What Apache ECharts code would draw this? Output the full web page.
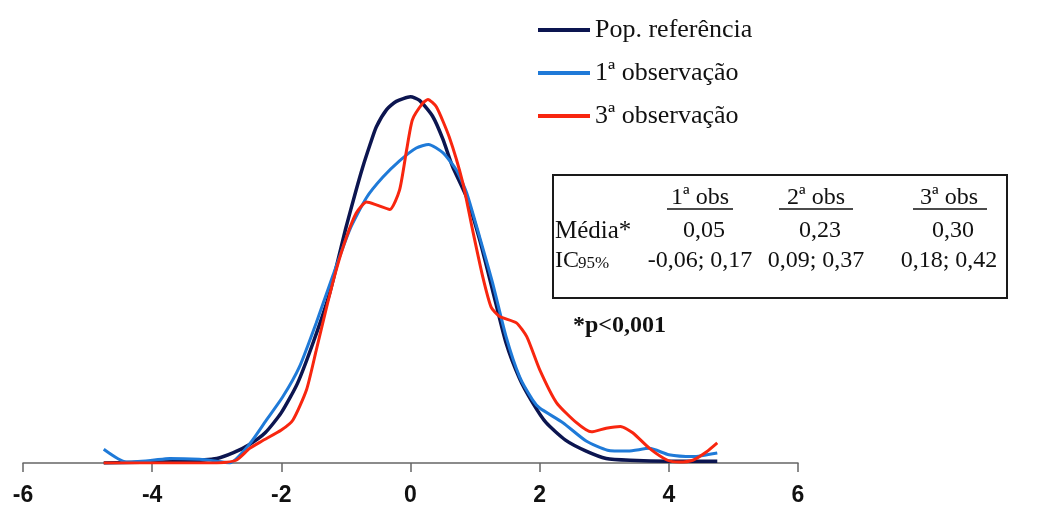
<!DOCTYPE html>
<html>
<head>
<meta charset="utf-8">
<script src="https://cdn.jsdelivr.net/npm/echarts@6/dist/echarts.min.js"></script>
<style>
  html, body { margin: 0; padding: 0; background: #fff; }
  #chart { width: 1054px; height: 515px; }
</style>
</head>
<body>
<div id="chart"></div>
<script>
// curvas de densidade (x = escore z, y = densidade)
const popRef = [
  [-4.75, 0], [-4.0, 0.001], [-3.5, 0.002], [-3.0, 0.005], [-2.75, 0.011], [-2.5, 0.020],
  [-2.25, 0.033], [-2.0, 0.055], [-1.75, 0.087], [-1.5, 0.133], [-1.25, 0.186], [-1.0, 0.257],
  [-0.85, 0.296], [-0.74, 0.323], [-0.63, 0.347], [-0.53, 0.367], [-0.37, 0.386], [-0.22, 0.395],
  [0, 0.400], [0.14, 0.396], [0.34, 0.379], [0.5, 0.354], [0.65, 0.324], [0.87, 0.290],
  [1.07, 0.244], [1.27, 0.189], [1.48, 0.131], [1.69, 0.092], [1.89, 0.066],
  [2.1, 0.044], [2.4, 0.025], [2.72, 0.013], [3.03, 0.005], [3.4, 0.003], [4.0, 0.002], [4.75, 0.002]
];
const obs1 = [
  [-4.75, 0.015], [-4.4, 0.001], [-4.0, 0.003], [-3.73, 0.005], [-3.27, 0.004], [-3.0, 0.002],
  [-2.8, 0], [-2.5, 0.020], [-2.23, 0.047], [-1.98, 0.072], [-1.72, 0.105], [-1.46, 0.153],
  [-1.2, 0.205], [-0.94, 0.255], [-0.68, 0.290], [-0.43, 0.312], [-0.17, 0.330], [0.09, 0.344],
  [0.28, 0.348], [0.5, 0.339], [0.71, 0.320], [0.87, 0.295], [1.07, 0.247], [1.27, 0.197],
  [1.48, 0.138], [1.69, 0.094], [1.89, 0.069], [2.0, 0.060], [2.36, 0.044], [2.72, 0.024],
  [3.05, 0.014], [3.37, 0.013], [3.7, 0.016], [4.0, 0.009], [4.37, 0.007], [4.75, 0.011]
];
const obs3 = [
  [-4.75, 0], [-3.0, 0], [-2.7, 0.003], [-2.49, 0.016], [-2.3, 0.024], [-2.0, 0.036],
  [-1.82, 0.047], [-1.61, 0.080], [-1.46, 0.123], [-1.3, 0.170], [-1.15, 0.211], [-0.99, 0.247],
  [-0.84, 0.273], [-0.68, 0.285], [-0.53, 0.282], [-0.32, 0.277], [-0.17, 0.298], [-0.06, 0.342],
  [0.03, 0.375], [0.19, 0.393], [0.27, 0.397], [0.40, 0.389], [0.6, 0.356], [0.81, 0.306],
  [0.96, 0.255], [1.12, 0.203], [1.25, 0.170], [1.38, 0.160], [1.64, 0.153], [1.8, 0.138],
  [2.0, 0.102], [2.26, 0.066], [2.57, 0.044], [2.8, 0.034], [3.03, 0.038], [3.25, 0.040],
  [3.44, 0.033], [3.7, 0.016], [3.98, 0.003], [4.16, 0.001], [4.37, 0.003], [4.58, 0.012], [4.75, 0.022]
];

const seriesNames = ['Pop. referência', '1ª observação', '3ª observação'];
const seriesColors = ['#0c1550', '#1f7ad8', '#f8260f'];

// tabela de médias
const tableHeaders = ['1ª obs', '2ª obs', '3ª obs'];
const tableMeans = ['0,05', '0,23', '0,30'];
const tableCI = ['-0,06; 0,17', '0,09; 0,37', '0,18; 0,42'];
const pNote = '*p<0,001';

const serif = '"Liberation Serif", "Times New Roman", serif';
const colX = [700, 816, 949];
const underline = [[667, 733], [779, 853], [913, 987]];
const rowY = { head: 198, mean: 231, ci: 261, note: 326 };

const chart = echarts.init(document.getElementById('chart'));

function txt(text, x, y, font, align) {
  return {
    type: 'text', z: 11,
    style: {
      text: text, x: x, y: y,
      font: font + ' ' + serif, fill: '#111',
      textAlign: align || 'left', textVerticalAlign: 'middle'
    }
  };
}

const graphics = [
  {
    type: 'rect', z: 10,
    shape: { x: 553, y: 175, width: 454, height: 123 },
    style: { fill: '#fff', stroke: '#1a1a1a', lineWidth: 2 }
  },
  txt('Média*', 555, rowY.mean, '25px'),
  txt('IC', 555, rowY.ci, '24px'),
  txt('95%', 578, rowY.ci + 3, '17px'),
  txt(pNote, 573, rowY.note, 'bold 24px')
];
tableHeaders.forEach(function (h, i) {
  graphics.push(txt(h, colX[i], rowY.head, '24px', 'center'));
  graphics.push({ type: 'line', z: 11, shape: { x1: underline[i][0], y1: 209, x2: underline[i][1], y2: 209 }, style: { stroke: '#111', lineWidth: 1.5 } });
  graphics.push(txt(tableMeans[i], colX[i] + 4, rowY.mean, '24px', 'center'));
  graphics.push(txt(tableCI[i], colX[i], rowY.ci, '24px', 'center'));
});

const option = {
  animation: false,
  backgroundColor: '#fff',
  grid: { left: 23, right: 256, top: 51, bottom: 52 },
  legend: {
    orient: 'vertical',
    left: 533,
    top: 12,
    icon: 'rect',
    itemWidth: 52,
    itemHeight: 4,
    itemGap: 17,
    data: seriesNames,
    textStyle: { fontFamily: serif, fontSize: 26, color: '#111', lineHeight: 26 }
  },
  xAxis: {
    type: 'value',
    min: -6, max: 6, interval: 2,
    axisLine: { lineStyle: { color: '#666', width: 1.5 } },
    axisTick: { show: true, length: 9, lineStyle: { color: '#666', width: 1.5 } },
    splitLine: { show: false },
    axisLabel: {
      margin: 21,
      fontFamily: '"Liberation Sans", Arial, sans-serif',
      fontWeight: 'bold',
      fontSize: 23,
      color: '#111'
    }
  },
  yAxis: { type: 'value', min: 0, max: 0.45, show: false },
  series: [
    { name: seriesNames[0], data: popRef },
    { name: seriesNames[1], data: obs1 },
    { name: seriesNames[2], data: obs3 }
  ].map(function (s, i) {
    return {
      name: s.name,
      type: 'line',
      data: s.data,
      smooth: 0.2,
      symbol: 'none',
      color: seriesColors[i],
      lineStyle: { color: seriesColors[i], width: i === 0 ? 3.5 : 3 }
    };
  }),
  graphic: graphics
};
chart.setOption(option);
</script>
</body>
</html>
